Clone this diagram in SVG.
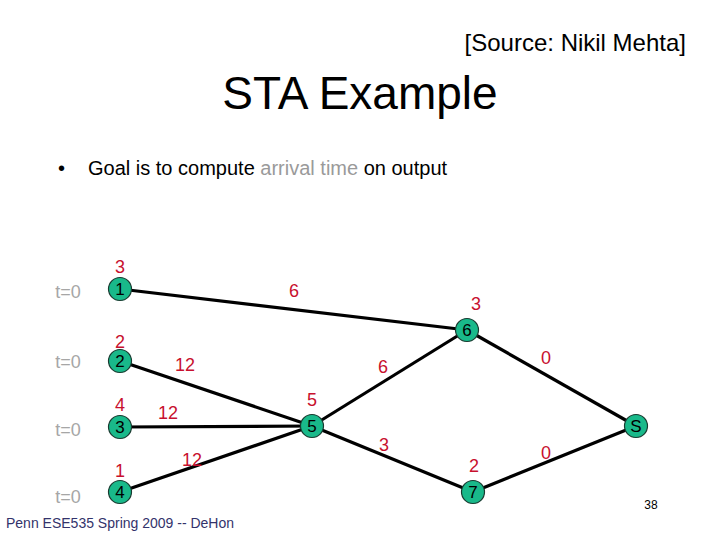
<svg xmlns="http://www.w3.org/2000/svg" width="720" height="540" viewBox="0 0 720 540">
<style>
text{font-family:"Liberation Sans",Arial,sans-serif}
.n circle{fill:#19b98a;stroke:#1a3a30;stroke-width:1.2}
.n text{font-size:17px;fill:#000;text-anchor:middle}
.w{font-size:18px;fill:#c8102e;text-anchor:middle}
.t{font-size:18px;fill:#a6a6a6;text-anchor:middle}
#edges line{stroke:#000;stroke-width:3.2}
</style>
<rect width="720" height="540" fill="#fff"/>
<text x="686" y="51" font-size="24" text-anchor="end">[Source: Nikil Mehta]</text>
<text x="360" y="109" font-size="46" text-anchor="middle">STA Example</text>
<text x="58" y="175" font-size="20">•</text>
<text x="88" y="175" font-size="20">Goal is to compute <tspan fill="#9a9a9a">arrival time</tspan> on output</text>
<g id="edges">
<line x1="120" y1="289" x2="467" y2="330"/>
<line x1="120" y1="361" x2="312" y2="426"/>
<line x1="120" y1="427" x2="312" y2="426"/>
<line x1="120" y1="492" x2="312" y2="426"/>
<line x1="312" y1="426" x2="467" y2="330"/>
<line x1="312" y1="426" x2="473" y2="492"/>
<line x1="467" y1="330" x2="636" y2="426"/>
<line x1="473" y1="492" x2="636" y2="426"/>
</g>
<g class="t">
<text x="68" y="298">t=0</text>
<text x="68" y="368">t=0</text>
<text x="68" y="436">t=0</text>
<text x="68" y="503">t=0</text>
</g>
<g id="n1" class="n"><circle cx="120" cy="289" r="11.5"/><text x="120" y="295">1</text></g>
<g id="n2" class="n"><circle cx="120" cy="361" r="11.5"/><text x="120" y="367">2</text></g>
<g id="n3" class="n"><circle cx="120" cy="427" r="11.5"/><text x="120" y="433">3</text></g>
<g id="n4" class="n"><circle cx="120" cy="492" r="11.5"/><text x="120" y="498">4</text></g>
<g id="n5" class="n"><circle cx="312" cy="426" r="11.5"/><text x="312" y="432">5</text></g>
<g id="n6" class="n"><circle cx="467" cy="330" r="11.5"/><text x="467" y="336">6</text></g>
<g id="n7" class="n"><circle cx="473" cy="492" r="11.5"/><text x="473" y="498">7</text></g>
<g id="nS" class="n"><circle cx="636" cy="426" r="11.5"/><text x="636" y="432">S</text></g>
<g class="w">
<text x="120" y="273">3</text>
<text x="120" y="348">2</text>
<text x="120" y="411">4</text>
<text x="120" y="477">1</text>
<text x="294" y="297">6</text>
<text x="476" y="310">3</text>
<text x="185" y="371">12</text>
<text x="383" y="373">6</text>
<text x="546" y="364">0</text>
<text x="168" y="419">12</text>
<text x="312" y="406">5</text>
<text x="192" y="466">12</text>
<text x="384" y="451">3</text>
<text x="474" y="472">2</text>
<text x="546" y="459">0</text>
</g>
<text x="6" y="528" font-size="14" fill="#33336b">Penn ESE535 Spring 2009 -- DeHon</text>
<text x="651" y="509" font-size="12" text-anchor="middle">38</text>
</svg>
